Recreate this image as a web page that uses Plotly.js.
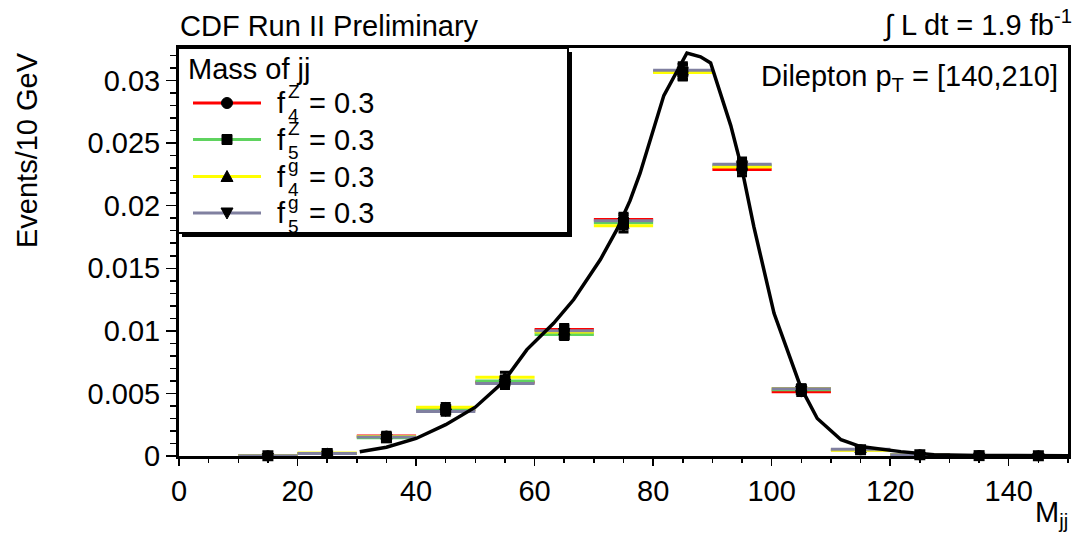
<!DOCTYPE html>
<html>
<head>
<meta charset="utf-8">
<script src="https://cdn.plot.ly/plotly-3.0.1.min.js"></script>
<style>html,body{margin:0;padding:0;background:#fff;}#chart{width:1083px;height:537px;}</style>
</head>
<body>
<div id="chart"></div>
<script>
// ---- data ----
const binCenters = [15, 25, 35, 45, 55, 65, 75, 85, 95, 105, 115, 125, 135, 145];
const binHalfWidth = 5;
const f4Z = [0.00002, 0.0002, 0.0016, 0.0037, 0.0059, 0.0101, 0.0189, 0.0307, 0.0229, 0.00514, 0.0005, 0.0001, 0.00003, 0.00002];
const f5Z = [0.00002, 0.0002, 0.00145, 0.0037, 0.0060, 0.0097, 0.01864, 0.0307, 0.0232, 0.0053, 0.0005, 0.0001, 0.00003, 0.00002];
const f4g = [0.00002, 0.00024, 0.00155, 0.0039, 0.0063, 0.0099, 0.0184, 0.03065, 0.0231, 0.0054, 0.00045, 0.0001, 0.00003, 0.00002];
const f5g = [0.00002, 0.0002, 0.00152, 0.00355, 0.0058, 0.0100, 0.0188, 0.03083, 0.02332, 0.00538, 0.00053, 0.0001, 0.00003, 0.00002];
const errs = [0.0001, 0.0002, 0.0003, 0.0003, 0.0004, 0.0004, 0.0005, 0.0006, 0.0005, 0.0003, 0.0002, 0.0001, 0.00008, 0.00008];
const curveX = [30.5, 35, 40, 45, 50, 54.7, 58.7, 63.2, 66.6, 71.1, 73.9, 76.1, 77.8, 81.8, 85.7, 88, 89.7, 93.1, 95, 97, 100.4, 104.9, 107.7, 111.7, 115, 121.8, 127.4, 135, 150];
const curveY = [0.00034, 0.0007, 0.0014, 0.0025, 0.0039, 0.0059, 0.0085, 0.0106, 0.0125, 0.0157, 0.0181, 0.0204, 0.0226, 0.0288, 0.0322, 0.0319, 0.0314, 0.0264, 0.0229, 0.0183, 0.0114, 0.0055, 0.003, 0.0013, 0.00075, 0.00035, 0.0001, 0.00004, 0.00002];
const seriesLabels = [["f","Z","4"],["f","Z","5"],["f","g","4"],["f","g","5"]];
const seriesValueText = "= 0.3";
const legendHeader = "Mass of jj";
const xTickVals = [0, 20, 40, 60, 80, 100, 120, 140];

// ---- styles ----
const series = [f4Z, f5Z, f4g, f5g];
const colors = ['#ff0000', '#5fd35f', '#ffff00', '#8080a0'];
const symbols = ['circle', 'square', 'triangle-up', 'triangle-down'];
const FONT = 'Liberation Sans, Arial, Helvetica, sans-serif';
const FS = 29;

const W = 1083, H = 537;
const L = 179, R = 1068, T = 48, B = 456;
const px = x => (x - L) / (R - L);
const py = y => (B - y) / (B - T);

const traces = [];
// colored horizontal bin lines
series.forEach((s, i) => {
  traces.push({
    x: binCenters, y: s, type: 'scatter', mode: 'markers',
    marker: {size: 1, color: 'rgba(0,0,0,0)'},
    error_x: {type: 'constant', value: binHalfWidth, color: colors[i], thickness: 3, width: 0},
    showlegend: false, hoverinfo: 'skip', cliponaxis: false
  });
});
// black markers with vertical errors
series.forEach((s, i) => {
  traces.push({
    x: binCenters, y: s, type: 'scatter', mode: 'markers',
    marker: {size: 11, color: 'black', symbol: symbols[i]},
    error_y: {type: 'data', array: errs, color: 'black', thickness: 3, width: 5},
    showlegend: false, cliponaxis: false
  });
});
// curve
traces.push({
  x: curveX, y: curveY, type: 'scatter', mode: 'lines',
  line: {color: 'black', width: 3.5}, showlegend: false
});

// legend box
const shapes = [
  {type: 'rect', xref: 'paper', yref: 'paper', x0: px(182), x1: px(572), y0: py(237), y1: py(52),
   fillcolor: 'black', line: {width: 0}, layer: 'above'},
  {type: 'rect', xref: 'paper', yref: 'paper', x0: px(178), x1: px(568), y0: py(233), y1: py(48),
   fillcolor: 'white', line: {color: 'black', width: 2}, layer: 'above'}
];
const rowY = [103, 139.5, 176.5, 213];
const annotations = [];
rowY.forEach((ry, i) => {
  shapes.push({type: 'line', xref: 'paper', yref: 'paper', x0: px(193), x1: px(261), y0: py(ry), y1: py(ry),
    line: {color: colors[i], width: 3}, layer: 'above'});
  const cx = 227, r = 5.5;
  if (symbols[i] === 'circle') {
    shapes.push({type: 'circle', xref: 'paper', yref: 'paper', x0: px(cx - r), x1: px(cx + r), y0: py(ry + r), y1: py(ry - r),
      fillcolor: 'black', line: {color: 'black', width: 1}, layer: 'above'});
  } else if (symbols[i] === 'square') {
    shapes.push({type: 'rect', xref: 'paper', yref: 'paper', x0: px(cx - 5), x1: px(cx + 5), y0: py(ry + 5), y1: py(ry - 5),
      fillcolor: 'black', line: {color: 'black', width: 1}, layer: 'above'});
  } else {
    const up = symbols[i] === 'triangle-up';
    const tip = up ? ry - 6 : ry + 6, base = up ? ry + 5 : ry - 5;
    const pts = [[cx - 6, base], [cx + 6, base], [cx, tip]].map(p => px(p[0]) + ' ' + py(p[1]));
    shapes.push({type: 'path', xref: 'paper', yref: 'paper',
      path: 'M ' + pts[0] + ' L ' + pts[1] + ' L ' + pts[2] + ' Z',
      fillcolor: 'black', line: {color: 'black', width: 1}, layer: 'above'});
  }
  const lab = seriesLabels[i];
  annotations.push({xref: 'paper', yref: 'paper', x: px(275), y: py(ry), xanchor: 'left', yanchor: 'middle',
    text: lab[0], showarrow: false, font: {family: FONT, size: FS, color: 'black'}});
  annotations.push({xref: 'paper', yref: 'paper', x: px(287), y: py(ry - 11), xanchor: 'left', yanchor: 'middle',
    text: lab[1], showarrow: false, font: {family: FONT, size: 19, color: 'black'}, borderpad: 0});
  annotations.push({xref: 'paper', yref: 'paper', x: px(287), y: py(ry + 13), xanchor: 'left', yanchor: 'middle',
    text: lab[2], showarrow: false, font: {family: FONT, size: 19, color: 'black'}, borderpad: 0});
  annotations.push({xref: 'paper', yref: 'paper', x: px(307), y: py(ry), xanchor: 'left', yanchor: 'middle',
    text: seriesValueText, showarrow: false, font: {family: FONT, size: FS, color: 'black'}});
});
annotations.push({xref: 'paper', yref: 'paper', x: px(186), y: py(69), xanchor: 'left', yanchor: 'middle',
  text: legendHeader, showarrow: false, font: {family: FONT, size: FS, color: 'black'}});

// other texts
annotations.push({xref: 'paper', yref: 'paper', x: px(178), y: py(26), xanchor: 'left', yanchor: 'middle',
  text: 'CDF Run II Preliminary', showarrow: false, font: {family: FONT, size: FS, color: 'black'}});
annotations.push({xref: 'paper', yref: 'paper', x: px(1074), y: py(24), xanchor: 'right', yanchor: 'middle',
  text: '∫ L dt = 1.9 fb<sup>-1</sup>', showarrow: false, font: {family: FONT, size: FS, color: 'black'}});
annotations.push({xref: 'paper', yref: 'paper', x: px(1060), y: py(78), xanchor: 'right', yanchor: 'middle',
  text: 'Dilepton p<sub>T</sub> = [140,210]', showarrow: false, font: {family: FONT, size: FS, color: 'black'}});
annotations.push({xref: 'paper', yref: 'paper', x: px(1070), y: py(514), xanchor: 'right', yanchor: 'middle',
  text: 'M<sub>jj</sub>', showarrow: false, font: {family: FONT, size: FS, color: 'black'}});
annotations.push({xref: 'paper', yref: 'paper', x: px(27), y: py(50), xanchor: 'center', yanchor: 'top',
  text: 'Events/10 GeV', textangle: -90, showarrow: false, font: {family: FONT, size: FS, color: 'black'}});

const layout = {
  width: W, height: H,
  margin: {l: L, r: W - R, t: T, b: H - B, pad: 0},
  paper_bgcolor: 'white', plot_bgcolor: 'white',
  font: {family: FONT, size: FS, color: 'black'},
  xaxis: {
    range: [0, 150], tickvals: xTickVals, ticks: 'outside', ticklen: 7, tickwidth: 1.5, tickcolor: 'black',
    minor: {dtick: 5, tick0: 0, ticks: 'outside', ticklen: 4, tickwidth: 1.5, tickcolor: 'black'},
    showline: true, linewidth: 3, linecolor: 'black', mirror: true,
    showgrid: false, zeroline: false, tickfont: {family: FONT, size: FS, color: 'black'}
  },
  yaxis: {
    range: [0, 0.0326], dtick: 0.005, tick0: 0, ticks: 'outside', ticklen: 10, tickwidth: 1.5, tickcolor: 'black',
    minor: {dtick: 0.001, tick0: 0, ticks: 'outside', ticklen: 6, tickwidth: 1.5, tickcolor: 'black'},
    showline: true, linewidth: 3, linecolor: 'black', mirror: true,
    showgrid: false, zeroline: false, tickfont: {family: FONT, size: FS, color: 'black'}
  },
  shapes: shapes,
  annotations: annotations,
  showlegend: false
};

Plotly.newPlot('chart', traces, layout, {staticPlot: true, displayModeBar: false});
</script>
</body>
</html>
